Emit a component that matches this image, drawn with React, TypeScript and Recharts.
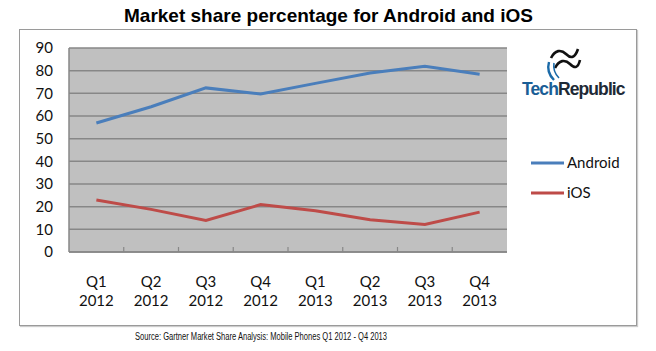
import { LineChart, Line, XAxis, YAxis, CartesianGrid } from "recharts";

const quarters = ["Q1", "Q2", "Q3", "Q4", "Q1", "Q2", "Q3", "Q4"];
const years = ["2012", "2012", "2012", "2012", "2013", "2013", "2013", "2013"];
const android = [56.9, 64.1, 72.4, 69.7, 74.4, 79.0, 81.9, 78.4];
const ios = [22.9, 18.8, 13.9, 20.9, 18.2, 14.2, 12.1, 17.6];
const yTicks = [0, 10, 20, 30, 40, 50, 60, 70, 80, 90];

const data = quarters.map((q, i) => ({
  label: `${q} ${years[i]}`,
  quarter: q,
  year: years[i],
  android: android[i],
  ios: ios[i],
}));

const W = 656;
const H = 351;
const PLOT_LEFT = 69;
const PLOT_RIGHT = 507;
const PLOT_TOP = 48;
const PLOT_BOTTOM = 252;
const BAND = (PLOT_RIGHT - PLOT_LEFT) / quarters.length;
const FONT = "Lato, 'Open Sans', sans-serif";
const GRID = "#878787";

const XTick = (props: any) => {
  const { x, payload, index } = props;
  const d = data[index] ?? { quarter: "", year: "" };
  return (
    <g>
      {index < quarters.length - 1 && (
        <line
          x1={x + BAND / 2}
          x2={x + BAND / 2}
          y1={PLOT_BOTTOM}
          y2={PLOT_BOTTOM - 5}
          stroke={GRID}
          strokeWidth={1.2}
        />
      )}
      <text
        x={x}
        y={PLOT_BOTTOM + 35}
        textAnchor="middle"
        fontFamily={FONT}
        fontSize={15}
        fill="#111"
      >
        {d.quarter}
      </text>
      <text
        x={x}
        y={PLOT_BOTTOM + 54}
        textAnchor="middle"
        fontFamily={FONT}
        fontSize={15}
        fill="#111"
      >
        {d.year}
      </text>
      <title>{payload?.value}</title>
    </g>
  );
};

const Logo = () => (
  <g>
    <path
      d="M551 58 C555 50, 561 49, 566 54 S575 58, 578 49"
      fill="none"
      stroke="#111"
      strokeWidth={2.6}
    />
    <path
      d="M555 68 C559 60, 565 59, 570 64 S578 68, 580 60"
      fill="none"
      stroke="#111"
      strokeWidth={2.6}
    />
    <path
      d="M549 62 C547 69, 549 75, 554 80"
      fill="none"
      stroke="#1a6aa8"
      strokeWidth={2.4}
    />
    <path
      d="M554 63 C553 69, 555 74, 559 78"
      fill="none"
      stroke="#1a6aa8"
      strokeWidth={1.6}
    />
    <text
      x={522}
      y={95}
      fontFamily="'Liberation Sans', Arial, sans-serif"
      fontWeight="bold"
      fontSize={17.5}
      letterSpacing={-0.9}
    >
      <tspan fill="#1a5e96">Tech</tspan>
      <tspan fill="#1e2a36">Republic</tspan>
    </text>
  </g>
);

const Legend = () => (
  <g fontFamily={FONT} fontSize={15} fill="#111">
    <line x1={531} x2={564} y1={163} y2={163} stroke="#4a7ebb" strokeWidth={3} />
    <text x={567} y={168}>Android</text>
    <line x1={531} x2={564} y1={193} y2={193} stroke="#be4b48" strokeWidth={3} />
    <text x={567} y={198}>iOS</text>
  </g>
);

export default function App() {
  return (
    <div
      style={{
        position: "absolute",
        left: 0,
        top: 0,
        width: W,
        height: H,
        background: "#fff",
      }}
    >
      <div
        style={{
          position: "absolute",
          left: 19,
          top: 29,
          width: 616,
          height: 295,
          border: "1px solid #9a9a9a",
          boxShadow: "1px 1px 1px #ccc",
        }}
      />
      <div
        style={{
          position: "absolute",
          left: 0,
          top: 5,
          width: 657,
          textAlign: "center",
          fontFamily: "'Liberation Sans', Arial, sans-serif",
          fontWeight: "bold",
          fontSize: 19,
          color: "#000",
        }}
      >
        Market share percentage for Android and iOS
      </div>
      <div style={{ position: "absolute", left: 0, top: 0 }}>
        <LineChart
          width={W}
          height={H}
          data={data}
          margin={{ top: PLOT_TOP, right: W - PLOT_RIGHT, bottom: 39, left: 0 }}
        >
          <CartesianGrid
            vertical={false}
            fill="#c0c0c0"
            stroke={GRID}
            strokeWidth={1.5}
          />
          <XAxis
            dataKey="label"
            height={60}
            padding={{ left: BAND / 2, right: BAND / 2 }}
            axisLine={{ stroke: GRID, strokeWidth: 1.5 }}
            tickLine={false}
            tick={<XTick />}
            interval={0}
          />
          <YAxis
            width={PLOT_LEFT}
            domain={[0, 90]}
            ticks={yTicks}
            axisLine={{ stroke: GRID, strokeWidth: 1.5 }}
            tickLine={false}
            tickMargin={10}
            tick={{ fontFamily: FONT, fontSize: 15, fill: "#111" }}
            interval={0}
          />
          <YAxis
            yAxisId="right"
            orientation="right"
            width={0}
            domain={[0, 90]}
            tick={false}
            tickLine={false}
            axisLine={{ stroke: GRID, strokeWidth: 1.5 }}
          />
          <Line
            dataKey="android"
            stroke="#4a7ebb"
            strokeWidth={3}
            dot={false}
            isAnimationActive={false}
          />
          <Line
            dataKey="ios"
            stroke="#be4b48"
            strokeWidth={3}
            dot={false}
            isAnimationActive={false}
          />
        </LineChart>
      </div>
      <svg
        width={W}
        height={H}
        style={{ position: "absolute", left: 0, top: 0, pointerEvents: "none" }}
      >
        <Logo />
        <Legend />
        <text
          x={135}
          y={340}
          fontFamily="'Liberation Sans', Arial, sans-serif"
          fontSize={10}
          fill="#111"
          textLength={252}
          lengthAdjust="spacingAndGlyphs"
        >
          Source: Gartner Market Share Analysis: Mobile Phones Q1 2012 - Q4 2013
        </text>
      </svg>
    </div>
  );
}
